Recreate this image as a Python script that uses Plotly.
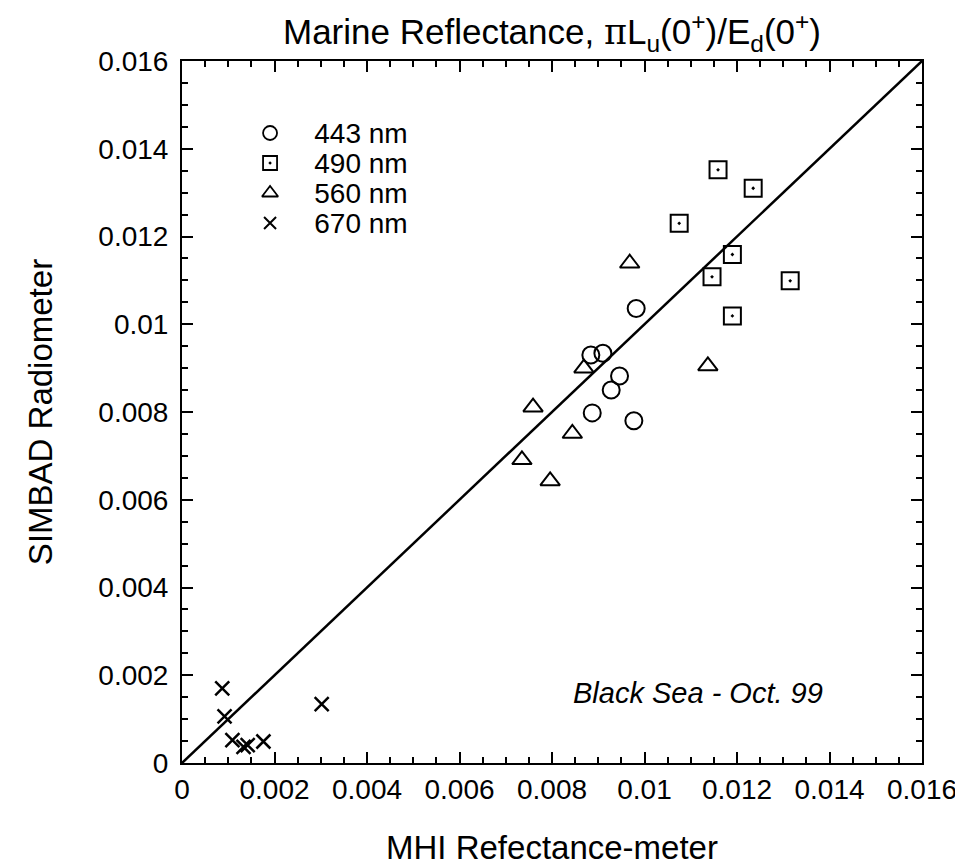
import plotly.graph_objects as go

# 443 nm
x443 = [0.00982, 0.00910, 0.00884, 0.00946, 0.00928, 0.00887, 0.00977]
y443 = [0.01036, 0.00934, 0.00930, 0.00882, 0.00850, 0.00798, 0.00780]
# 490 nm
x490 = [0.01159, 0.01235, 0.01075, 0.01190, 0.01146, 0.01315, 0.01190]
y490 = [0.01352, 0.01310, 0.01230, 0.01159, 0.01108, 0.01099, 0.01019]
# 560 nm
x560 = [0.00968, 0.00869, 0.01137, 0.00844, 0.00759, 0.00735, 0.00796]
y560 = [0.01139, 0.00900, 0.00905, 0.00751, 0.00811, 0.00691, 0.00643]
# 670 nm
x670 = [0.00087, 0.00092, 0.00109, 0.00133, 0.00142, 0.00176, 0.00302]
y670 = [0.00170, 0.00106, 0.00052, 0.00037, 0.00041, 0.00049, 0.00134]

one_to_one = [0.0, 0.016]
tick_vals = [0, 0.002, 0.004, 0.006, 0.008, 0.01, 0.012, 0.014, 0.016]
tick_text = ["0", "0.002", "0.004", "0.006", "0.008", "0.01", "0.012", "0.014", "0.016"]

legend_labels = ["443 nm", "490 nm", "560 nm", "670 nm"]
legend_symbols = ["circle-open", "square-open-dot", "triangle-up-open", "x-thin-open"]

FONT = "Liberation Sans, Arial, Helvetica, sans-serif"

fig = go.Figure()
fig.add_trace(go.Scatter(x=one_to_one, y=one_to_one, mode="lines",
                         line=dict(color="black", width=2.5), showlegend=False))

series = [(x443, y443), (x490, y490), (x560, y560), (x670, y670)]
for (xs, ys), name, sym in zip(series, legend_labels, legend_symbols):
    is_x = sym.startswith("x")
    fig.add_trace(go.Scatter(
        x=xs, y=ys, mode="markers", name=name, showlegend=False,
        marker=dict(symbol=sym, color="black", size=14 if is_x else 17,
                    line=dict(color="black", width=2.5 if is_x else 2))))
    # legend key drawn on a small categorical key axis
    fig.add_trace(go.Scatter(
        x=[0], y=[name], mode="markers", showlegend=False, xaxis="x2", yaxis="y2",
        hoverinfo="skip",
        marker=dict(symbol=sym, color="black", size=12 if is_x else 14,
                    line=dict(color="black", width=2 if is_x else 1.8))))

axis_common = dict(
    range=[0, 0.016], tickvals=tick_vals, ticktext=tick_text,
    ticks="inside", ticklen=11, tickwidth=1.5, tickcolor="black",
    showline=True, linecolor="black", linewidth=2, mirror="allticks",
    showgrid=False, zeroline=False, automargin=False,
    tickfont=dict(family=FONT, size=28, color="black"),
    minor=dict(dtick=0.0005, ticks="inside", ticklen=6, tickwidth=1.5, tickcolor="black", showgrid=False),
)

# the page body has an 8px margin, so the figure is 8px smaller than the window
fig.update_layout(
    width=955, height=858,
    margin=dict(l=174, r=41, t=53, b=103),
    paper_bgcolor="white", plot_bgcolor="rgba(0,0,0,0)",
    xaxis=dict(**axis_common,
               title=dict(text="MHI Refectance-meter", font=dict(family=FONT, size=33, color="black"),
                          standoff=46)),
    yaxis=dict(**axis_common, ticklabelstandoff=6,
               title=dict(text="SIMBAD Radiometer", font=dict(family=FONT, size=33, color="black"),
                          standoff=36)),
    xaxis2=dict(domain=[0.066, 0.172], anchor="y2", range=[-1, 1], visible=False, fixedrange=True),
    yaxis2=dict(domain=[0.7479, 0.9188], anchor="x2", side="right", type="category",
                categoryorder="array", categoryarray=legend_labels[::-1], range=[-0.5, 3.5],
                tickmode="array", tickvals=legend_labels, ticktext=legend_labels,
                showline=False, showgrid=False, zeroline=False, ticks="", fixedrange=True,
                ticklabelstandoff=4, automargin=False,
                tickfont=dict(family=FONT, size=28, color="black")),
    title=dict(text="Marine Reflectance, <span style='font-family:DejaVu Serif'>π</span>L<sub>u</sub>(0<sup>+</sup>)/E<sub>d</sub>(0<sup>+</sup>)",
               x=0.5, xref="paper", xanchor="center", y=1 - 24 / 858, yref="container", yanchor="middle",
               font=dict(family=FONT, size=35, color="black")),
    annotations=[dict(text="<i>Black Sea - Oct. 99</i>", x=0.01115, y=0.0016, xref="x", yref="y",
                      showarrow=False, font=dict(family=FONT, size=29, color="black"))],
)

fig.write_html("out.html")
